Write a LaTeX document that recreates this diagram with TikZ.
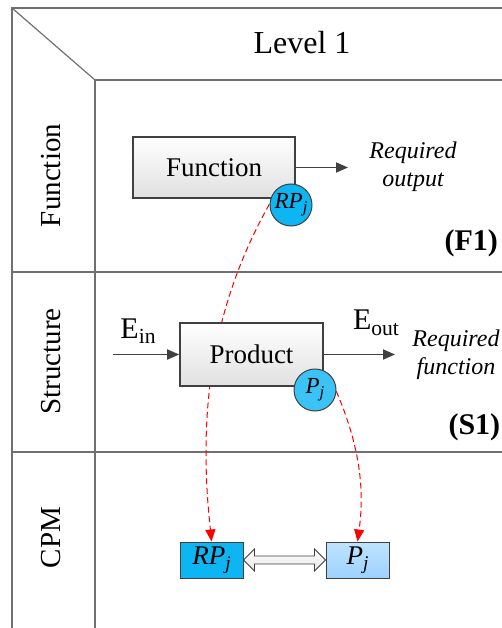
\documentclass[tikz,border=0pt]{standalone}
\usepackage{fontspec}
\setmainfont{Liberation Serif}
\setsansfont{Liberation Serif}
\usetikzlibrary{arrows.meta,calc}
\definecolor{framegray}{HTML}{707070}
\definecolor{boxgray}{HTML}{404040}
\definecolor{cyanA}{HTML}{0DB6F2}
\definecolor{cyanB}{HTML}{3CC3F5}
\definecolor{pjtop}{HTML}{BFE4FF}
\definecolor{pjbot}{HTML}{9DD1FF}
\newcommand{\mysub}[1]{\raisebox{-0.4ex}{\scalebox{0.72}{#1}}}
\tikzset{
  frameline/.style={draw=framegray, line width=1.2pt},
  blockbox/.style={draw=boxgray, line width=1.6pt, top color=white, bottom color=black!12, inner sep=0pt, font=\rmfamily\fontsize{27}{30}\selectfont},
  portcircle/.style={circle, draw=boxgray, line width=1pt, minimum size=42pt, inner sep=0pt, font=\rmfamily\fontsize{23}{25}\selectfont\itshape},
  cpmbox/.style={draw=boxgray, line width=1pt, minimum width=63pt, minimum height=36pt, inner sep=0pt, font=\rmfamily\fontsize{27}{29}\selectfont\itshape},
  flowarrow/.style={draw=boxgray, line width=1.8pt, -{Triangle[length=12pt,width=10pt]}},
  redlink/.style={draw=red, line width=1pt, dash pattern=on 6pt off 3.5pt, -{Triangle[length=12pt,width=10pt]}},
  rowlabel/.style={rotate=90, font=\rmfamily\fontsize{29}{32}\selectfont},
  itlabel/.style={align=center, font=\rmfamily\fontsize{24}{28}\selectfont\itshape},
  tag/.style={anchor=west, font=\rmfamily\fontsize{30}{32}\selectfont\bfseries}
}
\begin{document}
\begin{tikzpicture}[x=1pt,y=-1pt]
\useasboundingbox (0,0) rectangle (502,628);
% frame
\coordinate (tl) at (12,8);
\coordinate (tr) at (502,8);
\coordinate (bl) at (12,628);
\coordinate (ic) at (95,80);
\coordinate (ir) at (502,80);
\coordinate (ib) at (95,628);
\coordinate (s1l) at (12,272);
\coordinate (s1r) at (502,272);
\coordinate (s2l) at (12,452);
\coordinate (s2r) at (502,452);
\draw[frameline] (tr) -- (tl) -- (bl);
\draw[frameline] (tl) -- (ic);
\draw[frameline] (ir) -- (ic) -- (ib);
\draw[frameline] (s1l) -- (s1r);
\draw[frameline] (s2l) -- (s2r);
% labels
\node[font=\rmfamily\fontsize{32}{34}\selectfont] (lvl) at (302,43) {Level 1};
\node[rowlabel] (lf) at (51,175.5) {Function};
\node[rowlabel] (ls) at (51,361.5) {Structure};
\node[rowlabel] (lc) at (51,537.5) {CPM};
% CPM boxes (targets)
\node[cpmbox, fill=cyanA] (rpbox) at (211.5,560) {RP\mysub{j}};
\node[cpmbox, top color=pjtop, bottom color=pjbot] (pbox) at (357.5,560) {P\mysub{j}};
% red dashed links (drawn before boxes so Product hides them)
\coordinate (rc) at (291,205);
\coordinate (pc) at (315,390);
\coordinate (m1) at (206,452);
\draw[redlink] ($(rc)+(235:21)$) .. controls (232,265) and (206,350) .. (m1) .. controls (206,490) and (209,515) .. (rpbox.north);
\draw[redlink] ($(pc)+(-50:21)$) .. controls (356,432) and (366,480) .. (pbox.north);
% Function row
\node[blockbox, minimum width=162pt, minimum height=61pt] (fbox) at (214,167.5) {Function};
\node[portcircle, fill=cyanA] (rpc) at (rc) {RP\mysub{j}};
\coordinate (fout) at (348,167.5);
\draw[flowarrow] (fbox.east) -- (fout);
\node[itlabel] (reqout) at (413,167) {Required\\output};
\node[tag] (f1) at (441,243) {(F1)};
% Structure row
\node[blockbox, minimum width=143pt, minimum height=63pt] (pbx) at (251.5,354.5) {Product};
\node[portcircle, fill=cyanB] (pjc) at (pc) {P\mysub{j}};
\coordinate (ein) at (113,354.5);
\coordinate (eout) at (395,354.5);
\draw[flowarrow] (ein) -- (pbx.west);
\draw[flowarrow] (pbx.east) -- (eout);
\node[font=\rmfamily\fontsize{30}{32}\selectfont] (einl) at (138,331) {E\mysub{in}};
\node[font=\rmfamily\fontsize{30}{32}\selectfont] (eoutl) at (376,323) {E\mysub{out}};
\node[itlabel] (reqfn) at (456,355) {Required\\function};
\node[tag] (s1) at (445,427) {(S1)};
% double arrow between CPM boxes
\coordinate (da) at (rpbox.east);
\coordinate (db) at (pbox.west);
\draw[draw=boxgray, line width=0.8pt, top color=white, bottom color=black!10]
  (da) -- ($(da)+(11,-11)$) -- ($(da)+(11,-4)$) -- ($(db)+(-11,-4)$) -- ($(db)+(-11,-11)$)
  -- (db) -- ($(db)+(-11,11)$) -- ($(db)+(-11,4)$) -- ($(da)+(11,4)$) -- ($(da)+(11,11)$) -- cycle;
\end{tikzpicture}
\end{document}
